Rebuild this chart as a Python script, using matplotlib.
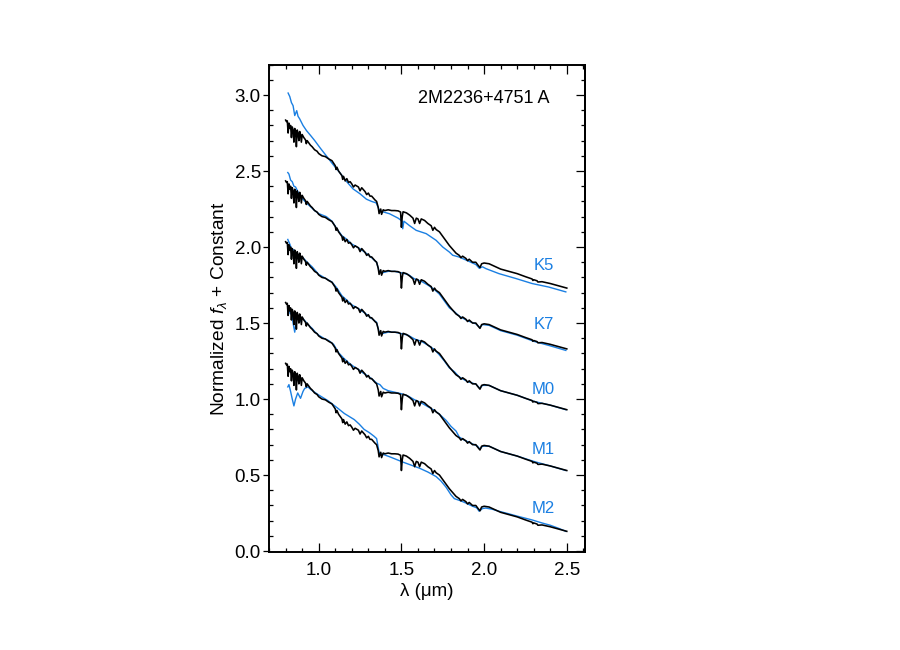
import matplotlib
matplotlib.use("Agg")
import matplotlib.pyplot as plt
from matplotlib.ticker import MultipleLocator
import numpy as np

plt.rcParams['font.family'] = ['Liberation Sans', 'DejaVu Sans']
plt.rcParams['mathtext.fontset'] = 'custom'
plt.rcParams['mathtext.rm'] = 'Liberation Sans'
plt.rcParams['mathtext.it'] = 'Liberation Sans:italic'

# ---- Target spectrum (2M2236+4751 A), base level (M2 comparison, offset 0) ----
target_wave = [0.800, 0.805, 0.810, 0.815, 0.820, 0.825, 0.830, 0.835, 0.840, 0.845,
               0.850, 0.855, 0.860, 0.865, 0.870, 0.875, 0.880, 0.885, 0.890, 0.895,
               0.900, 0.910, 0.920, 0.925, 0.930, 0.940, 0.950, 0.960, 0.975, 0.990,
               1.000, 1.020, 1.040, 1.060, 1.080, 1.100, 1.105, 1.110, 1.120, 1.130,
               1.140, 1.145, 1.150, 1.160, 1.170, 1.180, 1.190, 1.200, 1.210, 1.220,
               1.240, 1.250, 1.260, 1.280, 1.290, 1.300, 1.310, 1.320, 1.340, 1.350,
               1.360, 1.365, 1.375, 1.380, 1.390, 1.400, 1.420, 1.440, 1.460, 1.480,
               1.495, 1.500, 1.505, 1.510, 1.530, 1.550, 1.570, 1.580, 1.590, 1.600,
               1.610, 1.620, 1.640, 1.660, 1.680, 1.690, 1.700, 1.710, 1.730, 1.750,
               1.770, 1.790, 1.810, 1.830, 1.850, 1.860, 1.870, 1.890, 1.900, 1.910,
               1.930, 1.950, 1.960, 1.975, 1.985, 2.000, 2.030, 2.060, 2.100, 2.150,
               2.200, 2.250, 2.290, 2.295, 2.300, 2.320, 2.325, 2.350, 2.400, 2.450,
               2.500]
target_flux = [1.235, 1.225, 1.230, 1.150, 1.215, 1.180, 1.200, 1.120, 1.190, 1.170,
               1.090, 1.180, 1.160, 1.060, 1.170, 1.150, 1.100, 1.160, 1.140, 1.090,
               1.140, 1.120, 1.105, 1.080, 1.100, 1.085, 1.070, 1.060, 1.040, 1.030,
               1.015, 1.000, 0.995, 0.980, 0.968, 0.935, 0.910, 0.925, 0.900, 0.885,
               0.870, 0.845, 0.865, 0.835, 0.850, 0.825, 0.830, 0.815, 0.795, 0.808,
               0.795, 0.770, 0.790, 0.765, 0.745, 0.755, 0.735, 0.735, 0.710, 0.700,
               0.660, 0.620, 0.650, 0.615, 0.645, 0.640, 0.645, 0.640, 0.640, 0.638,
               0.630, 0.530, 0.600, 0.632, 0.625, 0.610, 0.590, 0.555, 0.590, 0.585,
               0.555, 0.585, 0.575, 0.555, 0.540, 0.510, 0.530, 0.515, 0.500, 0.470,
               0.440, 0.410, 0.385, 0.360, 0.345, 0.330, 0.340, 0.325, 0.310, 0.320,
               0.300, 0.300, 0.285, 0.265, 0.290, 0.295, 0.290, 0.275, 0.255, 0.240,
               0.225, 0.205, 0.190, 0.180, 0.185, 0.178, 0.170, 0.172, 0.160, 0.145,
               0.130]

# Constant added to the target spectrum for each comparison
labels = ['K5', 'K7', 'M0', 'M1', 'M2']
offsets = [1.6, 1.2, 0.8, 0.4, 0.0]
label_x = [2.36, 2.36, 2.36, 2.36, 2.36]
label_y = [1.88, 1.49, 1.06, 0.67, 0.28]

# ---- Standard (template) spectra, already offset ----
k5_wave = [0.815, 0.825, 0.835, 0.845, 0.855, 0.867, 0.875, 0.885, 0.905, 0.926,
           0.950, 0.976, 1.010, 1.046, 1.085, 1.127, 1.165, 1.207, 1.250, 1.288,
           1.320, 1.348, 1.365, 1.378, 1.428, 1.480, 1.505, 1.508, 1.515, 1.550,
           1.589, 1.650, 1.710, 1.750, 1.790, 1.810, 1.850, 1.900, 1.950, 1.971,
           1.990, 2.011, 2.090, 2.192, 2.290, 2.390, 2.494]
k5_flux = [3.013, 2.990, 2.950, 2.930, 2.865, 2.897, 2.860, 2.843, 2.800, 2.766,
           2.735, 2.700, 2.650, 2.600, 2.545, 2.490, 2.435, 2.383, 2.350, 2.315,
           2.300, 2.290, 2.245, 2.235, 2.219, 2.190, 2.170, 2.120, 2.170, 2.140,
           2.110, 2.088, 2.044, 2.000, 1.967, 1.946, 1.934, 1.910, 1.885, 1.860,
           1.870, 1.858, 1.825, 1.793, 1.760, 1.737, 1.705]

k7_wave = [0.813, 0.820, 0.830, 0.840, 0.850, 0.860, 0.867, 0.880, 0.900, 0.925,
           0.946, 0.970, 1.000, 1.046, 1.080, 1.110, 1.140, 1.170, 1.200, 1.240,
           1.280, 1.320, 1.350, 1.365, 1.380, 1.420, 1.460, 1.500, 1.540, 1.580,
           1.620, 1.660, 1.700, 1.730, 1.760, 1.790, 1.820, 1.850, 1.900, 1.950,
           1.975, 1.990, 2.030, 2.100, 2.200, 2.300, 2.400, 2.494]
k7_flux = [2.490, 2.480, 2.440, 2.430, 2.400, 2.395, 2.380, 2.350, 2.320, 2.290,
           2.270, 2.245, 2.220, 2.200, 2.170, 2.120, 2.075, 2.050, 2.020, 1.995,
           1.965, 1.930, 1.900, 1.840, 1.830, 1.840, 1.840, 1.830, 1.820, 1.790,
           1.775, 1.750, 1.720, 1.690, 1.645, 1.600, 1.575, 1.545, 1.515, 1.495,
           1.470, 1.490, 1.485, 1.450, 1.420, 1.380, 1.350, 1.320]

m0_wave = [0.813, 0.825, 0.835, 0.850, 0.860, 0.880, 0.900, 0.930, 0.960, 1.000,
           1.040, 1.080, 1.110, 1.140, 1.170, 1.200, 1.240, 1.280, 1.320, 1.350,
           1.365, 1.380, 1.420, 1.460, 1.500, 1.540, 1.580, 1.620, 1.660, 1.700,
           1.730, 1.760, 1.790, 1.820, 1.850, 1.900, 1.950, 1.975, 1.990, 2.030,
           2.100, 2.200, 2.300, 2.400, 2.494]
m0_flux = [2.050, 2.020, 1.990, 1.980, 1.960, 1.940, 1.935, 1.900, 1.870, 1.820,
           1.795, 1.770, 1.730, 1.680, 1.650, 1.620, 1.595, 1.565, 1.530, 1.505,
           1.440, 1.430, 1.440, 1.440, 1.430, 1.420, 1.395, 1.380, 1.355, 1.325,
           1.290, 1.250, 1.205, 1.180, 1.145, 1.115, 1.098, 1.070, 1.090, 1.090,
           1.055, 1.025, 0.985, 0.960, 0.930]

m1_wave = [0.813, 0.820, 0.828, 0.835, 0.845, 0.855, 0.865, 0.875, 0.885, 0.900,
           0.920, 0.940, 0.960, 0.980, 1.000, 1.030, 1.060, 1.090, 1.120, 1.150,
           1.180, 1.210, 1.240, 1.270, 1.300, 1.330, 1.350, 1.370, 1.390, 1.420,
           1.460, 1.500, 1.540, 1.580, 1.620, 1.660, 1.700, 1.730, 1.770, 1.800,
           1.830, 1.850, 1.880, 1.920, 1.960, 1.975, 1.990, 2.030, 2.100, 2.200,
           2.300, 2.400, 2.494]
m1_flux = [1.585, 1.600, 1.560, 1.580, 1.500, 1.440, 1.520, 1.540, 1.510, 1.535,
           1.510, 1.485, 1.465, 1.440, 1.420, 1.400, 1.385, 1.360, 1.305, 1.270,
           1.240, 1.215, 1.195, 1.170, 1.150, 1.125, 1.105, 1.095, 1.070, 1.055,
           1.045, 1.035, 1.020, 0.995, 0.975, 0.950, 0.925, 0.900, 0.860, 0.820,
           0.790, 0.750, 0.730, 0.710, 0.690, 0.670, 0.690, 0.690, 0.655, 0.625,
           0.590, 0.560, 0.530]

m2_wave = [0.813, 0.820, 0.830, 0.840, 0.850, 0.860, 0.873, 0.890, 0.905, 0.915,
           0.935, 0.955, 0.975, 0.995, 1.025, 1.055, 1.085, 1.115, 1.155, 1.185,
           1.215, 1.245, 1.275, 1.305, 1.335, 1.350, 1.365, 1.380, 1.430, 1.510,
           1.560, 1.610, 1.660, 1.710, 1.740, 1.770, 1.800, 1.820, 1.860, 1.890,
           1.930, 1.955, 1.970, 1.990, 2.010, 2.050, 2.090, 2.150, 2.200, 2.290,
           2.350, 2.400, 2.450, 2.494]
m2_flux = [1.080, 1.095, 1.050, 1.000, 0.955, 1.000, 1.040, 1.005, 1.050, 1.070,
           1.080, 1.060, 1.045, 1.030, 1.010, 0.990, 0.965, 0.940, 0.905, 0.885,
           0.865, 0.835, 0.800, 0.780, 0.755, 0.740, 0.650, 0.640, 0.620, 0.585,
           0.565, 0.545, 0.520, 0.490, 0.460, 0.420, 0.370, 0.345, 0.330, 0.316,
           0.295, 0.285, 0.262, 0.280, 0.283, 0.275, 0.262, 0.245, 0.230, 0.205,
           0.185, 0.170, 0.150, 0.130]

std_waves = [k5_wave, k7_wave, m0_wave, m1_wave, m2_wave]
std_fluxes = [k5_flux, k7_flux, m0_flux, m1_flux, m2_flux]

title = '2M2236+4751 A'

BLUE = '#1a7fe2'

fig = plt.figure(figsize=(9, 6.5), dpi=100)
ax = fig.add_axes([0.299, 0.151, 0.351, 0.7496])

tw = np.array(target_wave)
tf = np.array(target_flux)
for lab, off, sw, sf, lx, ly in zip(labels, offsets, std_waves, std_fluxes, label_x, label_y):
    ax.plot(sw, sf, color=BLUE, lw=1.0, zorder=2)
    ax.plot(tw, tf + off, color='black', lw=1.15, zorder=3)
    ax.text(lx, ly, lab, color=BLUE, fontsize=12, ha='center', va='center')

ax.text(1.995, 2.975, title, fontsize=13, ha='center', va='center')

ax.set_xlim(0.7, 2.61)
ax.set_ylim(-0.005, 3.2)

ax.set_xticks([1.0, 1.5, 2.0, 2.5])
ax.set_xticklabels(['1.0', '1.5', '2.0', '2.5'])
ax.set_yticks([0.0, 0.5, 1.0, 1.5, 2.0, 2.5, 3.0])
ax.set_yticklabels(['0.0', '0.5', '1.0', '1.5', '2.0', '2.5', '3.0'])
ax.xaxis.set_minor_locator(MultipleLocator(0.1))
ax.yaxis.set_minor_locator(MultipleLocator(0.1))

ax.tick_params(axis='x', which='major', direction='in', length=6.3, width=0.9,
               top=True, labelsize=13.5, pad=7)
ax.tick_params(axis='x', which='minor', direction='in', length=2.8, width=0.9, top=True)
ax.tick_params(axis='y', which='major', direction='out', length=4, width=0.9,
               right=False, labelsize=13.5, pad=2)
ax.tick_params(axis='y', which='minor', direction='in', length=2.8, width=0.9, right=False)

sec = ax.secondary_yaxis('right')
sec.set_yticks([0.0, 0.5, 1.0, 1.5, 2.0, 2.5, 3.0])
sec.yaxis.set_minor_locator(MultipleLocator(0.1))
sec.tick_params(which='major', direction='in', length=6.3, width=0.9, labelright=False)
sec.tick_params(which='minor', direction='in', length=2.8, width=0.9)
sec.spines['right'].set_linewidth(1.4)

for s in ax.spines.values():
    s.set_linewidth(1.4)

ax.set_xlabel('λ (μm)', fontsize=13.5, labelpad=3)
ax.set_ylabel(r'Normalized $f_\lambda$ + Constant', fontsize=13.8, labelpad=4)

fig.savefig('out.png', dpi=100)
